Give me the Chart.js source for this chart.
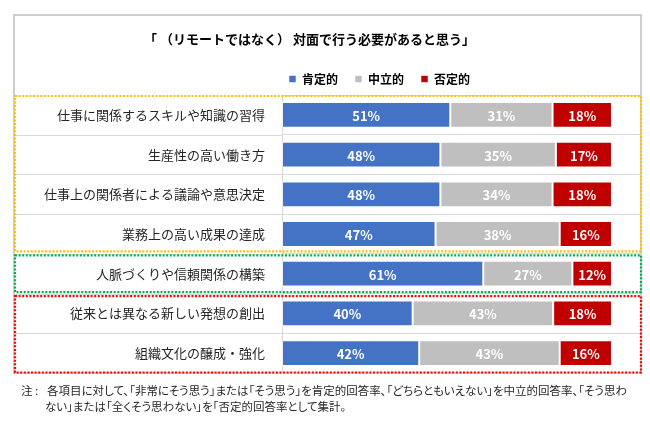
<!DOCTYPE html>
<html lang="ja">
<head>
<meta charset="utf-8">
<title>対面で行う必要があると思う</title>
<script src="https://cdn.jsdelivr.net/npm/chart.js@4.4.1/dist/chart.umd.min.js"></script>
<style>
  html, body { margin: 0; padding: 0; background: #fff; }
  #wrap { position: relative; width: 650px; height: 425px; }
  #chart { position: absolute; left: 0; top: 0; text-spacing-trim: space-all; }
  #note {
    position: absolute; left: 21px; top: 382px;
    font-family: 'Noto Sans CJK JP', sans-serif; font-size: 11.5px; line-height: 16px;
    color: #262626; font-feature-settings: "palt"; white-space: nowrap;
  }
  #note .head { display: inline-block; width: 26px; }
  #note .line2 { padding-left: 24px; }
</style>
</head>
<body>
<div id="wrap">
  <canvas id="chart" width="650" height="425"></canvas>
  <div id="note">
    <div><span class="head">注 :</span>各項目に対して、「非常にそう思う」または「そう思う」を肯定的回答率、「どちらともいえない」を中立的回答率、「そう思わ</div>
    <div class="line2">ない」または「全くそう思わない」を「否定的回答率として集計。</div>
  </div>
</div>
<script>
const categories = [
    '仕事に関係するスキルや知識の習得',
    '生産性の高い働き方',
    '仕事上の関係者による議論や意思決定',
    '業務上の高い成果の達成',
    '人脈づくりや信頼関係の構築',
    '従来とは異なる新しい発想の創出',
    '組織文化の醸成・強化'
];
const positive = [51, 48, 48, 47, 61, 40, 42];
const neutral  = [31, 35, 34, 38, 27, 43, 43];
const negative = [18, 17, 18, 16, 12, 18, 16];
const seriesNames = ['肯定的', '中立的', '否定的'];
const seriesColors = ['#4472C4', '#BFBFBF', '#C00000'];

// 100% stacked: each row is scaled by its own total (labels keep the rounded values)
const totals = categories.map((c, i) => positive[i] + neutral[i] + negative[i]);
const share = arr => arr.map((v, i) => v / totals[i] * 100);
const rawValues = [positive, neutral, negative];

Chart.defaults.font.family = "'Noto Sans CJK JP', sans-serif";
Chart.defaults.color = '#262626';

const frameLeft = 14, frameRight = 641, frameTop = 15;

// title / legend placement, outer frame, label gridline extension, group boxes, value labels
const decorPlugin = {
    id: 'decor',
    afterLayout(chart) {
        const lg = chart.legend;
        const dx = 272 - lg.left;
        lg.left += dx; lg.right += dx;
        const tb = chart.titleBlock;
        tb.left -= 18; tb.right -= 18;
    },
    beforeDraw(chart) {
        const ctx = chart.ctx;
        const area = chart.chartArea;
        ctx.save();
        ctx.strokeStyle = '#BFBFBF';
        ctx.lineWidth = 1.5;
        ctx.strokeRect(frameLeft, frameTop, frameRight - frameLeft, area.bottom - frameTop);
        // row separators across the label column
        const rowH = (area.bottom - area.top) / categories.length;
        ctx.strokeStyle = '#D9D9D9';
        ctx.lineWidth = 1;
        for (let i = 1; i < categories.length; i++) {
            const y = Math.round(area.top + i * rowH) + 0.5;
            ctx.beginPath();
            ctx.moveTo(frameLeft, y);
            ctx.lineTo(area.left, y);
            ctx.stroke();
        }
        ctx.restore();
    },
    afterDatasetsDraw(chart) {
        const ctx = chart.ctx;
        ctx.save();
        ctx.fillStyle = '#fff';
        ctx.font = "bold 13px 'Noto Sans CJK JP', sans-serif";
        ctx.textAlign = 'center';
        ctx.textBaseline = 'middle';
        chart.data.datasets.forEach((ds, d) => {
            chart.getDatasetMeta(d).data.forEach((bar, i) => {
                const p = bar.getProps(['x', 'y', 'base'], true);
                ctx.fillText(rawValues[d][i] + '%', (p.x + p.base) / 2, p.y + 1);
            });
        });
        ctx.restore();
    },
    afterDraw(chart) {
        const ctx = chart.ctx;
        const area = chart.chartArea;
        const rowH = (area.bottom - area.top) / categories.length;
        const edge = i => area.top + i * rowH;
        const groups = [
            { from: 0, to: 4, color: '#FFC000', t: 1, b: -2.5 },
            { from: 4, to: 5, color: '#00B050', t: 1.5, b: -1.5 },
            { from: 5, to: 7, color: '#FF0000', t: 2.5, b: -0.5 }
        ];
        ctx.save();
        ctx.lineWidth = 2.2;
        ctx.setLineDash([2, 1.6]);
        groups.forEach(g => {
            ctx.strokeStyle = g.color;
            const top = edge(g.from) + g.t, bottom = edge(g.to) + g.b;
            ctx.strokeRect(frameLeft + 1, top, frameRight - frameLeft - 1, bottom - top);
        });
        ctx.restore();
    }
};

const ctx = document.getElementById('chart').getContext('2d');
new Chart(ctx, {
    type: 'bar',
    data: {
        labels: categories,
        datasets: [positive, neutral, negative].map((arr, d) => ({
            label: seriesNames[d],
            data: share(arr),
            backgroundColor: seriesColors[d],
            borderColor: 'rgba(255,255,255,0.55)',
            borderWidth: 1,
            borderSkipped: false,
            barPercentage: 0.65,
            categoryPercentage: 1
        }))
    },
    options: {
        indexAxis: 'y',
        responsive: false,
        animation: false,
        layout: { padding: { top: frameTop, left: frameLeft, right: 650 - frameRight, bottom: 52 } },
        plugins: {
            title: {
                display: true,
                text: '「 （リモートではなく） 対面で行う必要があると思う」',
                color: '#000',
                font: { size: 13, weight: 'bold' },
                padding: { top: 16, bottom: 9.4 }
            },
            legend: {
                position: 'top',
                align: 'start',
                labels: {
                    boxWidth: 7,
                    boxHeight: 7,
                    padding: 17,
                    color: '#000',
                    font: { size: 12, weight: 'bold' }
                }
            },
            tooltip: { enabled: false }
        },
        scales: {
            x: {
                display: false,
                stacked: true,
                min: 0,
                max: 108.8
            },
            y: {
                stacked: true,
                afterFit(scale) { scale.width = 268; },
                grid: { color: '#D9D9D9', lineWidth: 1, drawTicks: false, offset: true },
                border: { display: true, color: '#D9D9D9', width: 1 },
                ticks: { padding: 17, color: '#262626', font: { size: 13 } }
            }
        }
    },
    plugins: [decorPlugin]
});
</script>
</body>
</html>
